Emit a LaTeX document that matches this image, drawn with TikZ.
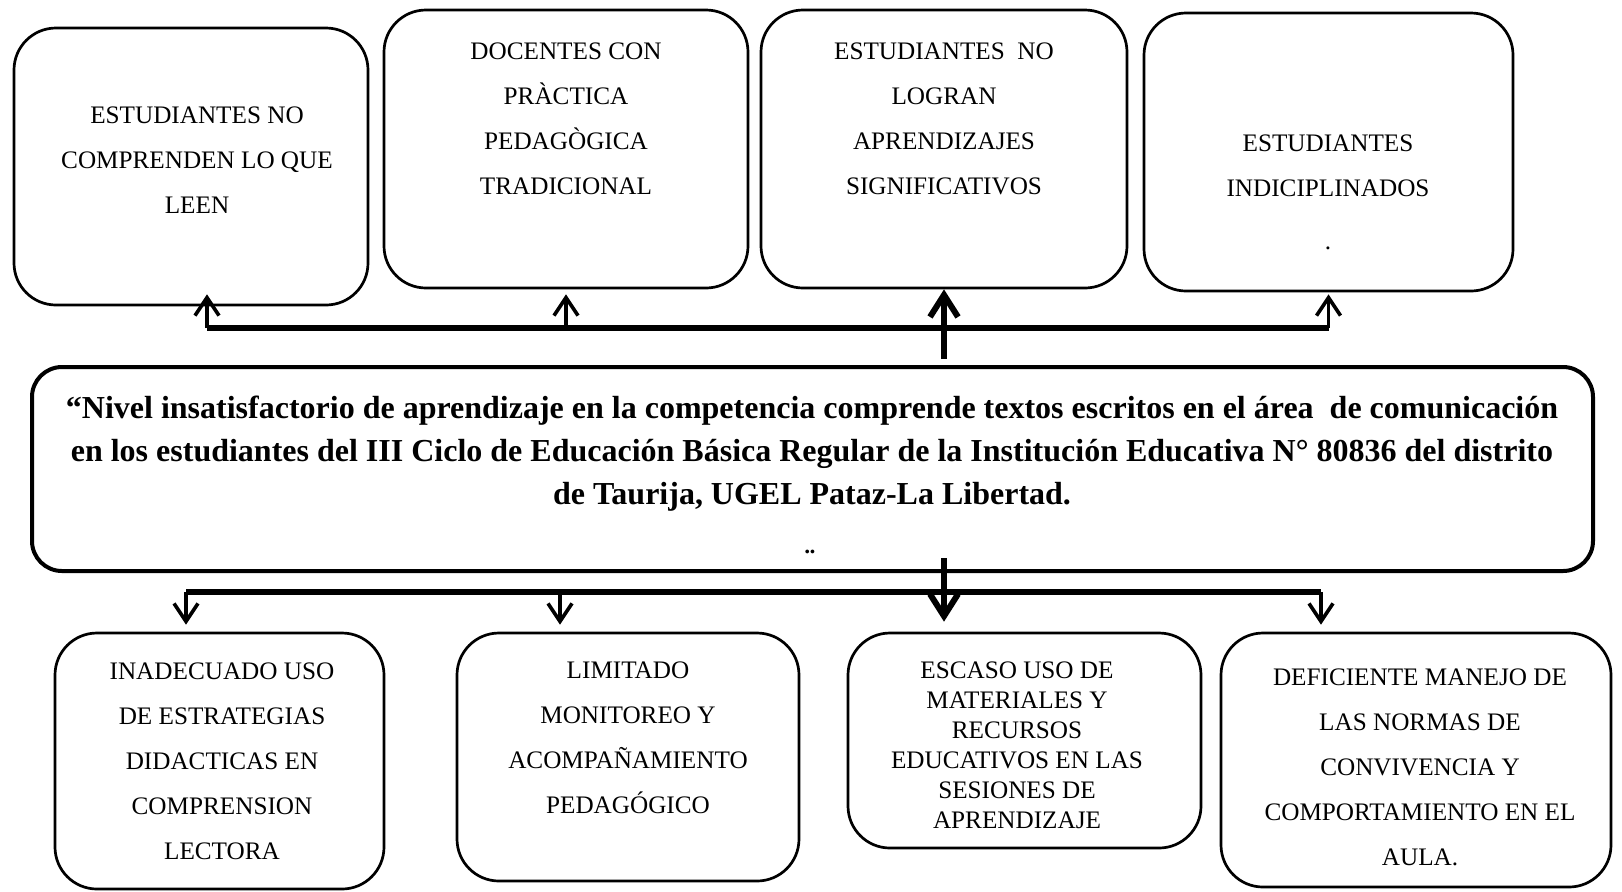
\documentclass[tikz,border=0pt]{standalone}
\usepackage{fontspec}
\setmainfont{Liberation Serif}
\usetikzlibrary{arrows.meta}

\begin{document}
\begin{tikzpicture}[x=0.5pt, y=-0.5pt,
    caja/.style={draw, line width=1.35pt, rounded corners=21pt, inner sep=0pt},
    problema/.style={draw, line width=2pt, rounded corners=15pt, inner sep=0pt},
    texto/.style={align=center, inner sep=0pt, font=\fontsize{12.6}{22.5}\selectfont},
    textojunto/.style={align=center, inner sep=0pt, font=\fontsize{12.6}{15}\selectfont},
    barra/.style={line width=2.7pt},
    flecha/.style={line width=1.8pt, -{Straight Barb[length=9pt, width=12pt]}},
    flechagruesa/.style={line width=3pt, -{Straight Barb[length=11pt, width=14pt]}}]
    \useasboundingbox (0,0) rectangle (1622,891);
    % efectos
    \node[caja, minimum width=177pt, minimum height=138.5pt] (t1) at (191,166.5) {};
    \node[caja, minimum width=182pt, minimum height=139pt] (t2) at (566,149) {};
    \node[caja, minimum width=183pt, minimum height=139pt] (t3) at (944,149) {};
    \node[caja, minimum width=184.5pt, minimum height=139pt] (t4) at (1328.5,152) {};
    \node[texto] (t1txt) at (197,160) {ESTUDIANTES NO\\COMPRENDEN LO QUE\\LEEN};
    \node[texto] (t2txt) at (566,119) {DOCENTES CON\\PRÀCTICA\\PEDAGÒGICA\\TRADICIONAL};
    \node[texto] (t3txt) at (944,119) {ESTUDIANTES \ NO\\LOGRAN\\APRENDIZAJES\\SIGNIFICATIVOS};
    \node[texto] (t4txt) at (1328,192) {ESTUDIANTES\\INDICIPLINADOS\\[4pt].};
    % problema
    \node[problema, minimum width=780.5pt, minimum height=102pt] (main) at (812.5,469) {};
    \node[texto, font=\fontsize{16}{21.5}\selectfont\bfseries] (maintxt) at (812,454)
        {“Nivel insatisfactorio de aprendizaje en la competencia comprende textos escritos en el área \ de comunicación\\
         en los estudiantes del III Ciclo de Educación Básica Regular de la Institución Educativa N° 80836 del distrito\\
         de Taurija, UGEL Pataz-La Libertad.};
    \node[inner sep=0pt, anchor=base, font=\fontsize{16}{16}\selectfont\bfseries] (diere) at (810,571) {¨};
    % causas
    \node[caja, minimum width=164.5pt, minimum height=128pt] (b1) at (219.5,761) {};
    \node[caja, minimum width=171pt, minimum height=124pt] (b2) at (628,757) {};
    \node[caja, minimum width=176.5pt, minimum height=107.5pt] (b3) at (1024.5,740.5) {};
    \node[caja, minimum width=195pt, minimum height=127pt] (b4) at (1416,760) {};
    \node[texto] (b1txt) at (222,761) {INADECUADO USO\\DE ESTRATEGIAS\\DIDACTICAS EN\\COMPRENSION\\LECTORA};
    \node[texto] (b2txt) at (628,738) {LIMITADO\\MONITOREO Y\\ACOMPAÑAMIENTO\\PEDAGÓGICO};
    \node[textojunto] (b3txt) at (1017,745) {ESCASO USO DE\\MATERIALES Y\\RECURSOS\\EDUCATIVOS EN LAS\\SESIONES DE\\APRENDIZAJE};
    \node[texto] (b4txt) at (1420,767) {DEFICIENTE MANEJO DE\\LAS NORMAS DE\\CONVIVENCIA Y\\COMPORTAMIENTO EN EL\\AULA.};
    % conectores arriba
    \coordinate (bs1) at (207,328);
    \draw[barra] (bs1) -- (t4.south |- bs1);
    \draw[flecha] (bs1) -- ([yshift=6pt]bs1 |- t1.south);
    \draw[flecha] (t2.south |- bs1) -- ([yshift=-2.5pt]t2.south);
    \draw[flecha] (t4.south |- bs1) -- ([yshift=-1pt]t4.south);
    \draw[flechagruesa] ([yshift=3pt]t3.south |- main.north) -- (t3.south);
    % conectores abajo
    \coordinate (bi1) at (186,592);
    \coordinate (bi2) at (560,592);
    \coordinate (bi4) at (1321,592);
    \draw[barra] (bi1) -- (bi4);
    \draw[flecha] (bi1) -- ([yshift=3.5pt]bi1 |- b1.north);
    \draw[flecha] (bi2) -- ([yshift=3.5pt]bi2 |- b2.north);
    \draw[flecha] (bi4) -- ([yshift=3.5pt]bi4 |- b4.north);
    \draw[flechagruesa] ([yshift=7.5pt]t3.south |- main.south) -- ([yshift=5pt]t3.south |- b3.north);
\end{tikzpicture}
\end{document}
